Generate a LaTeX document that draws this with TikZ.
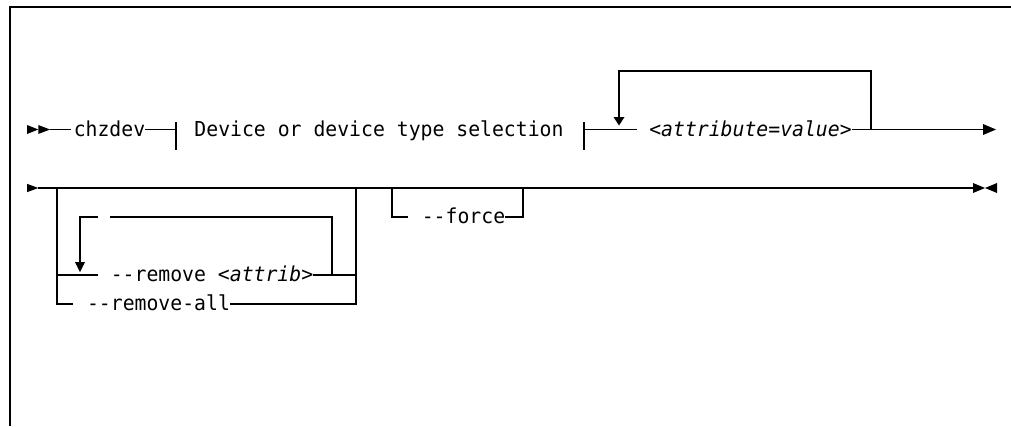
\documentclass[tikz,border=0pt]{standalone}
\usepackage{fontspec}
\setmonofont{DejaVu Sans Mono}[FakeStretch=0.96]
\begin{document}
\begin{tikzpicture}[x=1pt,y=-1pt,
  rail/.style={draw=black, line width=1.3pt},
  frame/.style={draw=black, line width=2pt},
  txt/.style={inner sep=0pt, text height=13pt, text depth=0pt, font=\fontsize{20.6}{22}\selectfont\ttfamily},
  tipfill/.style={fill=black, draw=none}]
\useasboundingbox (0,0) rectangle (1011,426);
% frame
\coordinate (fbl) at (10,426);
\coordinate (ftl) at (10,7);
\coordinate (ftr) at (1011,7);
\draw[frame] (fbl) -- (ftl) -- (ftr);

% ---------------- row 1 ----------------
\fill[tipfill] (27,125) -- (38.3,129.5) -- (27,134) -- cycle;
\fill[tipfill] (38.3,125) -- (50,129.5) -- (38.3,134) -- cycle;
\coordinate (s1) at (50,129.5);
\node[txt] (chz) at (109.5,129.5) {chzdev};
\coordinate (t1) at (176,129.5);
\node[txt] (sel) at (379,129.5) {Device or device type selection};
\coordinate (t2) at (584,129.5);
\coordinate (a0) at (637,129.5);
\node[txt] (att) at (750.5,129.5) {<\itshape attribute=value\upshape>};
\coordinate (l1) at (871,129.5);
\coordinate (lt1) at (871,71);
\coordinate (lt2) at (619,71);
\coordinate (la) at (619,117);
\coordinate (e1) at (984,129.5);

\draw[rail] (s1) -- ([xshift=-3pt]chz.west);
\draw[rail] (chz.east) -- (t1);
\draw[rail] (t1) ++(0,-7.5) -- ++(0,28);
\draw[rail] (t2) ++(0,-7.5) -- ++(0,28);
\draw[rail] (t2) -- (a0);
\draw[rail] (att.east) -- (e1);
\draw[rail] (l1) -- (lt1) -- (lt2) -- (la);
\fill[tipfill] (613.5,117) -- (624.5,117) -- (619,125.5) -- cycle;
\fill[tipfill] (983,124) -- (996,129.5) -- (983,135) -- cycle;

% ---------------- row 2 ----------------
\fill[tipfill] (27,183.8) -- (38.3,188) -- (27,192.2) -- cycle;
\coordinate (s2) at (38.3,188);
\coordinate (e2) at (973,188);
\draw[rail] (s2) -- (e2);
\fill[tipfill] (973,183) -- (985,188) -- (973,193) -- cycle;
\fill[tipfill] (997,183) -- (985,188) -- (997,193) -- cycle;

% group: remove / remove-all
\coordinate (gl) at (57,188);
\coordinate (gr) at (356,188);
\coordinate (glb) at (57,304);
\coordinate (grb) at (356,304);
\node[txt] (remall) at (158.5,304) {-{}-remove-all};
\node[txt] (rem) at (212,275) {-{}-remove <\itshape attrib\upshape>};
\draw[rail] (gl) -- (glb) -- (73,304);
\draw[rail] (remall.east) -- (grb) -- (gr);
\draw[rail] (57,275) -- (98,275);
\draw[rail] (rem.east) -- (356,275);
% inner repeat loop
\coordinate (il1) at (332,275);
\coordinate (il2) at (332,217);
\coordinate (il3) at (80,217);
\coordinate (ila) at (80,262);
\draw[rail] (il1) -- (il2) -- (110,217);
\draw[rail] (98,217) -- (il3) -- (ila);
\fill[tipfill] (75,262) -- (85,262) -- (80,272) -- cycle;

% force
\coordinate (fl) at (392,188);
\coordinate (fr) at (523,188);
\node[txt] (force) at (463.5,217) {-{}-force};
\draw[rail] (fl) -- (392,217) -- (408,217);
\draw[rail] (force.east) -- (523,217) -- (fr);
\draw[line width=1.8pt] (530,187.8) -- (553,187.8);
\end{tikzpicture}
\end{document}
